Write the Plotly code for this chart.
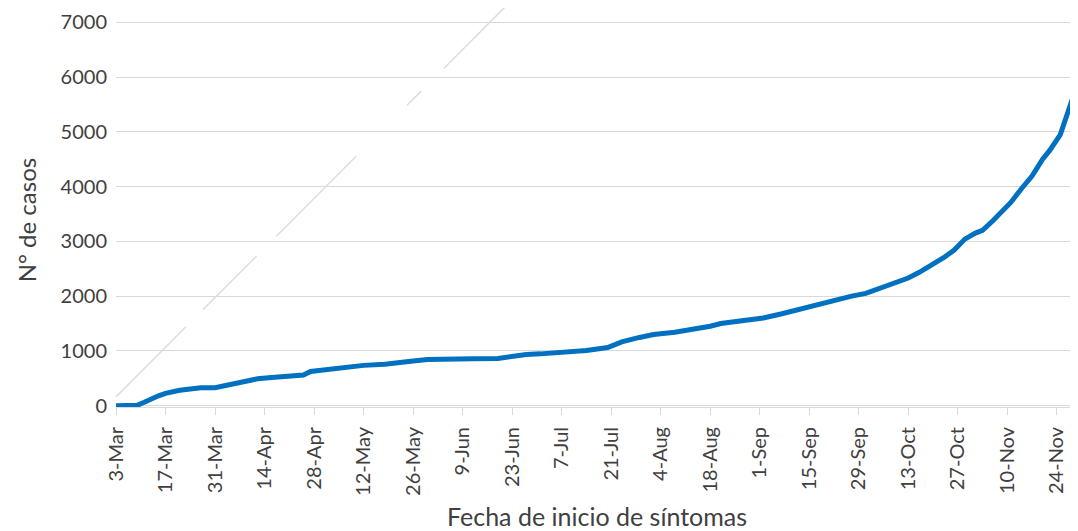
import plotly.graph_objects as go

# casos acumulados por fecha de inicio de síntomas (2020)
DATES = [
    "2020-03-03", "2020-03-06", "2020-03-09", "2020-03-11", "2020-03-13",
    "2020-03-15", "2020-03-17", "2020-03-19", "2020-03-21", "2020-03-24",
    "2020-03-27", "2020-03-31", "2020-04-03", "2020-04-07", "2020-04-10",
    "2020-04-12", "2020-04-16", "2020-04-20", "2020-04-25", "2020-04-27",
    "2020-05-02", "2020-05-07", "2020-05-12", "2020-05-18", "2020-05-22",
    "2020-05-26", "2020-05-30", "2020-06-06", "2020-06-12", "2020-06-19",
    "2020-06-23", "2020-06-27", "2020-07-01", "2020-07-08", "2020-07-14",
    "2020-07-20", "2020-07-24", "2020-07-29", "2020-08-02", "2020-08-08",
    "2020-08-14", "2020-08-18", "2020-08-21", "2020-08-28", "2020-09-02",
    "2020-09-07", "2020-09-11", "2020-09-15", "2020-09-19", "2020-09-22",
    "2020-09-27", "2020-10-01", "2020-10-04", "2020-10-07", "2020-10-10",
    "2020-10-13", "2020-10-16", "2020-10-19", "2020-10-23", "2020-10-26",
    "2020-10-29", "2020-11-01", "2020-11-03", "2020-11-06", "2020-11-08",
    "2020-11-11", "2020-11-14", "2020-11-17", "2020-11-20", "2020-11-22",
    "2020-11-25", "2020-11-28", "2020-11-30",
]
CASES = [
    0, 0, 5, 60, 130,
    180, 225, 262, 280, 305,
    326, 328, 370, 420, 460,
    490, 512, 535, 560, 625,
    665, 705, 735, 755, 775,
    815, 840, 855, 855, 860,
    905, 935, 945, 975, 1005,
    1060, 1165, 1245, 1300, 1340,
    1395, 1450, 1500, 1550, 1600,
    1674, 1740, 1820, 1890, 1930,
    2000, 2050, 2120, 2180, 2250,
    2330, 2430, 2540, 2700, 2840,
    3040, 3150, 3200, 3380, 3520,
    3710, 3960, 4190, 4500, 4660,
    4950, 5560, 5900,
]

# línea de referencia gris (tendencia)
REF_DATES = ["2020-03-03", "2020-06-30"]
REF_CASES = [160, 7860]

FONT = "Lato, 'Open Sans', sans-serif"
TEXT_COLOR = "#404040"
GRID_COLOR = "#d9d9d9"

fig = go.Figure()
fig.add_trace(
    go.Scatter(
        x=REF_DATES,
        y=REF_CASES,
        mode="lines",
        line={
            "color": "#dedede",
            "width": 1.6,
            "dash": "99px,24px,76px,28px,113px,72px,20px,32px,300px",
        },
        showlegend=False,
        hoverinfo="skip",
    )
)
fig.add_trace(
    go.Scatter(
        x=DATES,
        y=CASES,
        mode="lines",
        line={"color": "#0070c0", "width": 5},
        showlegend=False,
    )
)

# la página deja 8 px de margen alrededor del gráfico
fig.update_layout(
    width=1070,
    height=523,
    margin={"l": 107.7, "r": 0, "t": 0, "b": 124, "autoexpand": False},
    paper_bgcolor="white",
    plot_bgcolor="white",
    font={"family": FONT, "color": TEXT_COLOR},
    xaxis={
        "type": "date",
        "range": ["2020-03-03", "2020-11-30"],
        "tick0": "2020-03-03",
        "dtick": 14 * 86400000,
        "tickformat": "%-d-%b",
        "tickangle": -90,
        "tickfont": {"size": 20, "color": TEXT_COLOR},
        "ticks": "outside",
        "ticklen": 7,
        "tickcolor": GRID_COLOR,
        "tickwidth": 1,
        "ticklabelstandoff": 4,
        "showgrid": False,
        "showline": True,
        "linecolor": GRID_COLOR,
        "linewidth": 1,
        "zeroline": False,
        "automargin": False,
        "title": {
            "text": "Fecha de inicio de síntomas",
            "font": {"size": 25, "color": TEXT_COLOR},
            "standoff": 18,
        },
    },
    yaxis={
        "range": [-25, 7260],
        "tick0": 0,
        "dtick": 1000,
        "tickfont": {"size": 20, "color": TEXT_COLOR},
        "showgrid": True,
        "gridcolor": GRID_COLOR,
        "gridwidth": 1,
        "zeroline": True,
        "zerolinecolor": GRID_COLOR,
        "zerolinewidth": 1,
        "showline": False,
        "ticks": "",
        "ticklabelstandoff": 8,
        "automargin": False,
    },
    annotations=[
        {
            "text": "N° de casos",
            "textangle": -90,
            "xref": "paper",
            "yref": "paper",
            "x": -0.0935,
            "y": 0.468,
            "xanchor": "center",
            "yanchor": "middle",
            "showarrow": False,
            "font": {"size": 24, "color": TEXT_COLOR},
        }
    ],
)

fig.write_html("out.html")
